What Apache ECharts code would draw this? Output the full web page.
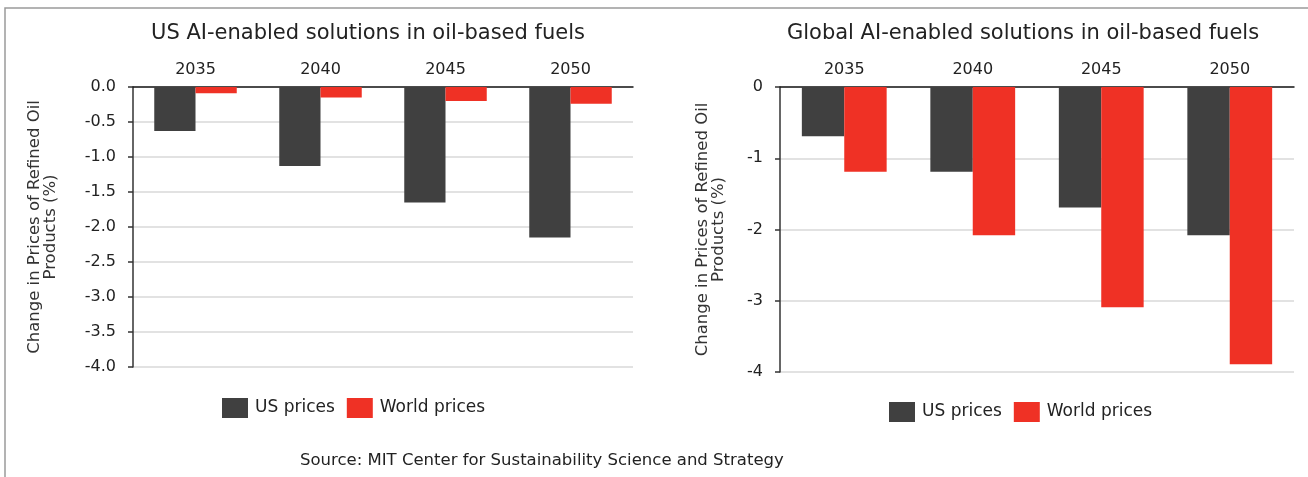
<!DOCTYPE html>
<html>
<head>
<meta charset="utf-8">
<title>AI-enabled solutions in oil-based fuels</title>
<script src="https://cdn.jsdelivr.net/npm/echarts@6/dist/echarts.min.js"></script>
<style>
  html, body { margin: 0; padding: 0; background: #fff; }
  #chart { width: 1308px; height: 477px; }
</style>
</head>
<body>
<div id="chart"></div>
<script>
// data (% change)
const years = ['2035', '2040', '2045', '2050']
const seriesNames = ['US prices', 'World prices']
// left panel: US AI-enabled solutions
const usPricesUS = [-0.63, -1.13, -1.65, -2.15]
const worldPricesUS = [-0.09, -0.15, -0.2, -0.24]
// right panel: global AI-enabled solutions
const usPricesGlobal = [-0.69, -1.19, -1.69, -2.08]
const worldPricesGlobal = [-1.19, -2.08, -3.09, -3.89]

const titles = ['US AI-enabled solutions in oil-based fuels', 'Global AI-enabled solutions in oil-based fuels']
const yName = 'Change in Prices of Refined Oil\nProducts (%)'
const source = 'Source: MIT Center for Sustainability Science and Strategy'

const font = 'DejaVu Sans'
const dark = '#404040'
const red = '#EF3125'

const chart = echarts.init(document.getElementById('chart'))

function catAxis(gridIndex) {
  return {
    type: 'category',
    gridIndex: gridIndex,
    data: years,
    position: 'top',
    axisLine: { lineStyle: { color: '#1a1a1a', width: 1.5 } },
    axisTick: { show: false },
    axisLabel: { color: '#222', fontSize: 16, margin: 9, fontFamily: font }
  }
}

function valAxis(gridIndex, interval, digits, gap) {
  return {
    type: 'value',
    gridIndex: gridIndex,
    min: -4,
    max: 0,
    interval: interval,
    name: yName,
    nameLocation: 'middle',
    nameGap: gap,
    nameTextStyle: { color: '#333', fontSize: 16.5, lineHeight: 16, fontFamily: font },
    axisLine: { show: true, lineStyle: { color: '#333', width: 1.5 } },
    axisTick: { show: true, length: 5, lineStyle: { color: '#333', width: 1.5 } },
    axisLabel: {
      color: '#222',
      fontSize: 16,
      margin: 17,
      fontFamily: font,
      formatter: (v) => v.toFixed(digits)
    },
    splitLine: { lineStyle: { color: '#d9d9d9', width: 1.5 } }
  }
}

function bars(name, data, color, idx) {
  return {
    name: name,
    type: 'bar',
    xAxisIndex: idx,
    yAxisIndex: idx,
    data: data,
    barGap: '0%',
    barCategoryGap: '34%',
    itemStyle: { color: color },
    silent: true
  }
}

function legend(left, top) {
  return {
    left: left,
    top: top,
    data: seriesNames,
    icon: 'rect',
    itemWidth: 26,
    itemHeight: 20,
    itemGap: 12,
    padding: 0,
    selectedMode: false,
    textStyle: { color: '#222', fontSize: 17, fontFamily: font, padding: [0, 0, 0, 2] }
  }
}

chart.setOption({
  animation: false,
  textStyle: { fontFamily: font },
  title: [
    {
      text: titles[0], left: 368, top: 23, textAlign: 'center', padding: 0,
      textStyle: { color: '#222', fontSize: 21, fontWeight: 'normal', fontFamily: font }
    },
    {
      text: titles[1], left: 1023, top: 23, textAlign: 'center', padding: 0,
      textStyle: { color: '#222', fontSize: 21, fontWeight: 'normal', fontFamily: font }
    },
    {
      text: source, left: 300, top: 452, padding: 0,
      textStyle: { color: '#222', fontSize: 16.5, fontWeight: 'normal', fontFamily: font }
    }
  ],
  legend: [legend(222, 398), legend(889, 402)],
  grid: [
    { left: 133, top: 87, width: 500, height: 280 },
    { left: 780, top: 87, width: 514, height: 285 }
  ],
  xAxis: [catAxis(0), catAxis(1)],
  yAxis: [valAxis(0, 0.5, 1, 74), valAxis(1, 1, 0, 53)],
  series: [
    bars(seriesNames[0], usPricesUS, dark, 0),
    bars(seriesNames[1], worldPricesUS, red, 0),
    bars(seriesNames[0], usPricesGlobal, dark, 1),
    bars(seriesNames[1], worldPricesGlobal, red, 1)
  ],
  // frame round the picture (top and left edge only)
  graphic: [
    {
      type: 'polyline',
      shape: { points: [[5, 477], [5, 8], [1308, 8]] },
      style: { stroke: '#9a9a9a', lineWidth: 1.5, fill: null },
      silent: true
    }
  ]
})
</script>
</body>
</html>
